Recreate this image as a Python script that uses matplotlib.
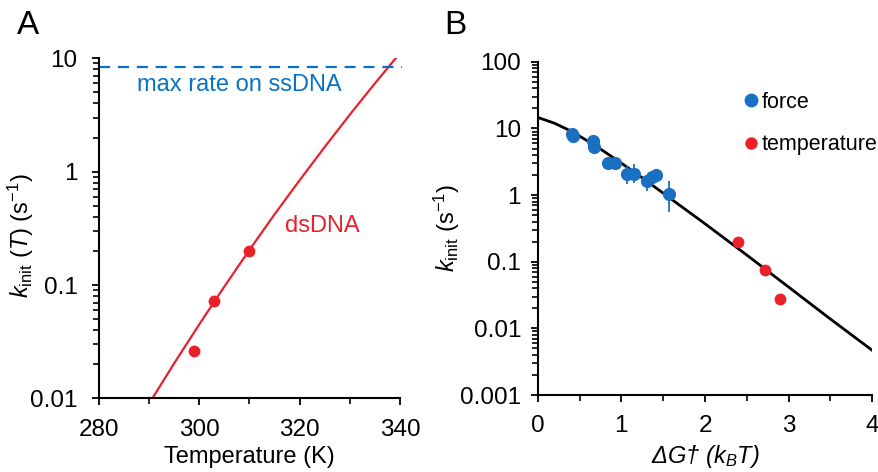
import numpy as np
import matplotlib.pyplot as plt
from matplotlib.ticker import LogLocator, NullFormatter, FixedLocator

plt.rcParams['font.family'] = ['Liberation Sans', 'DejaVu Sans']
plt.rcParams['mathtext.fontset'] = 'custom'
plt.rcParams['mathtext.rm'] = 'Liberation Sans'
plt.rcParams['mathtext.it'] = 'Liberation Sans:italic'

# panel A: initiation rate vs temperature
temp_T = [299, 303, 310]
temp_k = [0.026, 0.072, 0.2]
fitA_T = [290, 295, 300, 305, 310, 315, 320, 325, 330, 335, 340]
fitA_k = [0.009, 0.0204, 0.045, 0.097, 0.204, 0.42, 0.84, 1.65, 3.18, 6.0, 11.1]
max_rate = 8.3

# panel B: rate vs barrier
force_dG = [0.41, 0.42, 0.66, 0.67, 0.84, 0.92, 1.07, 1.15, 1.31, 1.37, 1.41, 1.57]
force_k = [8.3, 7.6, 6.4, 5.2, 3.0, 3.0, 2.1, 2.1, 1.65, 1.85, 2.0, 1.03]
force_lo = [0.5, 0.5, 0.4, 0.4, 0.3, 0.3, 0.65, 0.6, 0.5, 0.3, 0.3, 0.48]
force_hi = [0.5, 0.5, 0.4, 0.4, 0.3, 0.3, 0.7, 0.8, 0.3, 0.3, 0.5, 0.6]
tempB_dG = [2.39, 2.72, 2.90]
tempB_k = [0.2, 0.074, 0.028]
fitB_dG = [0, 0.2, 0.4, 0.6, 0.8, 1.0, 1.25, 1.5, 1.75, 2.0, 2.5, 3.0, 3.5, 4.0]
fitB_k = [14.66, 12.0, 9.12, 6.46, 4.47, 3.02, 1.82, 1.07, 0.631, 0.372,
          0.126, 0.0417, 0.0138, 0.00468]

red = '#e8212b'
blue = '#1b6fc0'
dash_blue = '#0a72c4'
fs = 17.5
tfs = 17

fig = plt.figure(figsize=(8.79, 4.72), dpi=100)
ax1 = fig.add_axes([0.1126, 0.156, 0.3424, 0.7205])
ax2 = fig.add_axes([0.6117, 0.163, 0.3807, 0.706])

for ax in (ax1, ax2):
    ax.set_yscale('log')
    ax.spines['top'].set_visible(False)
    ax.spines['right'].set_visible(False)
    ax.spines['left'].set_linewidth(1.5)
    ax.spines['bottom'].set_linewidth(1.5)
    ax.tick_params(which='major', length=5, width=1.3, labelsize=fs)
    ax.tick_params(which='minor', length=4, width=1.2)
    ax.tick_params(axis='x', which='major', pad=9.5)
ax1.tick_params(axis='y', which='major', pad=10.5)
ax2.tick_params(axis='y', which='major', pad=7)

# ---- A ----
ax1.plot(fitA_T, fitA_k, color=red, lw=1.6)
ax1.plot(temp_T, temp_k, 'o', color=red, ms=8.5, mec='none')
ax1.plot([280, 340.4], [max_rate, max_rate], color=dash_blue, lw=1.6,
         dashes=(5, 3.5), clip_on=False)
ax1.set_xlim(280, 340)
ax1.set_ylim(0.01, 10)
ax1.set_xticks([280, 300, 320, 340])
ax1.xaxis.set_minor_locator(FixedLocator([290, 310, 330]))
ax1.set_yticks([0.01, 0.1, 1, 10])
ax1.set_yticklabels(['0.01', '0.1', '1', '10'])
ax1.yaxis.set_minor_locator(LogLocator(base=10, subs=np.arange(2, 10)))
ax1.yaxis.set_minor_formatter(NullFormatter())
ax1.set_xlabel('Temperature (K)', fontsize=tfs, labelpad=4)
ax1.set_ylabel(r'$k_{\mathrm{init}}$ ($T$) (s$^{-1}$)', fontsize=tfs)
ax1.yaxis.set_label_coords(-0.21, 0.48)
ax1.text(308, 5.8, 'max rate on ssDNA', color=dash_blue, fontsize=tfs,
         ha='center', va='center')
ax1.text(324.5, 0.33, 'dsDNA', color=red, fontsize=tfs, ha='center', va='center')
fig.text(0.032, 0.945, 'A', fontsize=24, ha='center', va='center')

# ---- B ----
ax2.plot(fitB_dG, fitB_k, color='black', lw=2)
eb = ax2.errorbar(force_dG, force_k, yerr=[force_lo, force_hi], fmt='o', color=blue,
                  ms=9.5, mec='none', elinewidth=1.3, capsize=0)
tp, = ax2.plot(tempB_dG, tempB_k, 'o', color=red, ms=8.5, mec='none')
ax2.set_xlim(0, 4)
ax2.set_ylim(0.001, 100)
ax2.set_xticks([0, 1, 2, 3, 4])
ax2.xaxis.set_minor_locator(FixedLocator([0.5, 1.5, 2.5, 3.5]))
ax2.set_yticks([0.001, 0.01, 0.1, 1, 10, 100])
ax2.set_yticklabels(['0.001', '0.01', '0.1', '1', '10', '100'])
ax2.yaxis.set_minor_locator(LogLocator(base=10, subs=np.arange(2, 10)))
ax2.yaxis.set_minor_formatter(NullFormatter())
ax2.set_xlabel('ΔG† ($k_B T$)', fontsize=tfs, style='italic', labelpad=4)
ax2.set_ylabel(r'$k_{\mathrm{init}}$ (s$^{-1}$)', fontsize=tfs)
ax2.yaxis.set_label_coords(-0.225, 0.5)
leg = ax2.legend([eb[0], tp], ['force', 'temperature'], loc='upper left',
                 bbox_to_anchor=(0.622, 0.91), frameon=False, fontsize=15.5,
                 handlelength=0.5, handletextpad=0.25, labelspacing=1.0,
                 borderaxespad=0, borderpad=0, markerscale=1.05)
fig.text(0.518, 0.945, 'B', fontsize=24, ha='center', va='center')

plt.savefig('out.png', dpi=100)
